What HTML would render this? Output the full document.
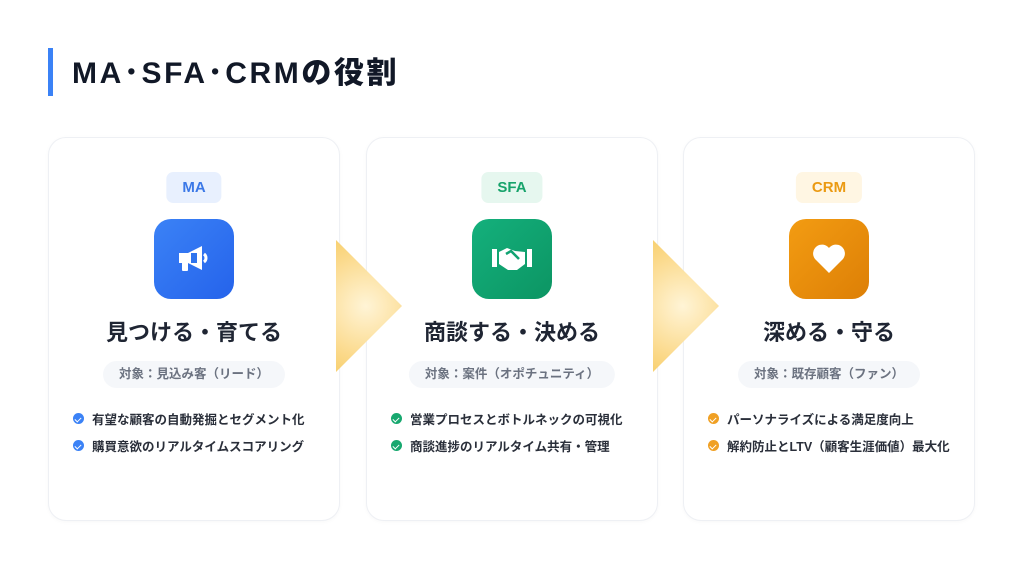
<!DOCTYPE html>
<html><head><meta charset="utf-8"><style>
*{margin:0;padding:0;box-sizing:border-box}
body{width:1024px;height:576px;background:#fff;position:relative;overflow:hidden;font-family:"Liberation Sans","Noto Sans CJK JP",sans-serif;color:#1f2533}
.bar{position:absolute;left:48px;top:48px;width:5px;height:48px;background:#3b82f6}
.title{position:absolute;left:72px;top:54px;font-size:30px;font-weight:900;color:#111827;letter-spacing:2.6px;line-height:40px}
.card{position:absolute;top:137px;width:292px;height:384px;border:1px solid #eef0f4;border-radius:18px;background:#fff;box-shadow:0 1px 4px rgba(0,0,0,0.03)}
.badge{position:absolute;top:34px;left:50%;transform:translateX(-50%);height:31px;padding:0 16px;border-radius:7px;font-size:15px;font-weight:700;line-height:31px}
.icon{position:absolute;top:81px;left:50%;margin-left:-40px;width:80px;height:80px;border-radius:17px;display:flex;align-items:center;justify-content:center}
.h{position:absolute;top:177px;width:100%;text-align:center;font-size:22px;font-weight:700;color:#1f2533}
.pill{position:absolute;top:223px;left:50%;transform:translateX(-50%);height:27px;padding:0 16px;border-radius:14px;background:#f5f7fa;font-size:12.5px;font-weight:700;color:#6b7280;line-height:27px;white-space:nowrap}
.li{position:absolute;left:24px;font-size:12.5px;font-weight:700;color:#2a2f3a;white-space:nowrap;display:flex;align-items:center}
.dot{width:11px;height:11px;border-radius:50%;margin-right:8px;position:relative}
.dot:after{content:"";position:absolute;left:3px;top:2.5px;width:3px;height:5px;border:solid #fff;border-width:0 1.5px 1.5px 0;transform:rotate(45deg)}
.tri{position:absolute;width:66px;height:132px;clip-path:polygon(0 0,100% 50%,0 100%);background:radial-gradient(circle at 45% 50%,#fff4d6 0%,#fbd98a 70%,#f7cf6d 100%)}
</style></head><body>
<div class="bar"></div>
<div class="title">MA･SFA･CRMの役割</div>

<div class="card" style="left:48px">
<div class="badge" style="background:#e8f0fe;color:#3b78e7">MA</div>
<div class="icon" style="background:linear-gradient(135deg,#3b82f6,#2563eb)">
<svg width="34" height="30" viewBox="0 0 34 30"><path d="M2 9h9l14-7v24l-14-7H2z" fill="#fff"/><rect x="5" y="17" width="6" height="10" rx="1" fill="#fff"/><path d="M27 10a5 5 0 0 1 0 8" stroke="#fff" stroke-width="3" fill="none"/><rect x="14" y="9" width="6" height="10" fill="#2f74ee"/></svg></div>
<div class="h">見つける・育てる</div>
<div class="pill">対象：見込み客（リード）</div>
<div class="li" style="top:271px"><span class="dot" style="background:#3b82f6"></span>有望な顧客の自動発掘とセグメント化</div>
<div class="li" style="top:298px"><span class="dot" style="background:#3b82f6"></span>購買意欲のリアルタイムスコアリング</div>
</div>

<div class="card" style="left:366px">
<div class="badge" style="background:#e6f7ef;color:#17a36b">SFA</div>
<div class="icon" style="background:linear-gradient(135deg,#14b07c,#0c9563)">
<svg width="44" height="30" viewBox="0 0 44 30"><rect x="2" y="5" width="5" height="18" fill="#fff"/><rect x="37" y="5" width="5" height="18" fill="#fff"/><path d="M9 8l8-4 8 3 10 1v12l-8 6h-9l-9-6z" fill="#fff"/><path d="M16 10l5-3 8 8" stroke="#12a372" stroke-width="2.5" fill="none"/></svg></div>
<div class="h">商談する・決める</div>
<div class="pill">対象：案件（オポチュニティ）</div>
<div class="li" style="top:271px"><span class="dot" style="background:#17a86f"></span>営業プロセスとボトルネックの可視化</div>
<div class="li" style="top:298px"><span class="dot" style="background:#17a86f"></span>商談進捗のリアルタイム共有・管理</div>
</div>

<div class="card" style="left:683px">
<div class="badge" style="background:#fff6e3;color:#eb9a12">CRM</div>
<div class="icon" style="background:linear-gradient(135deg,#f39c12,#dd7f06)">
<svg width="36" height="32" viewBox="0 0 36 32"><path d="M18 30L4 16A8 8 0 0 1 18 5a8 8 0 0 1 14 11z" fill="#fff"/></svg></div>
<div class="h">深める・守る</div>
<div class="pill">対象：既存顧客（ファン）</div>
<div class="li" style="top:271px"><span class="dot" style="background:#f0a024"></span>パーソナライズによる満足度向上</div>
<div class="li" style="top:298px"><span class="dot" style="background:#f0a024"></span>解約防止とLTV（顧客生涯価値）最大化</div>
</div>

<div class="tri" style="left:336px;top:240px"></div>
<div class="tri" style="left:653px;top:240px"></div>
</body></html>
